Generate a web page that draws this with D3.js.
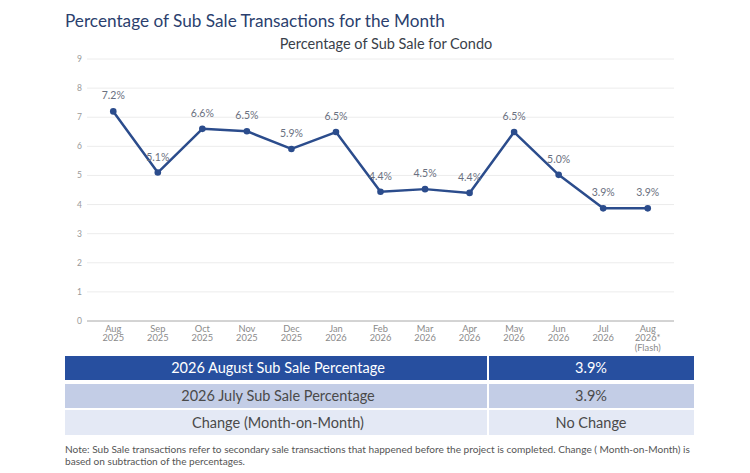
<!DOCTYPE html>
<html>
<head>
<meta charset="utf-8">
<script src="https://cdn.jsdelivr.net/npm/d3@7"></script>
<style>
  body { margin: 0; background: #fff; }
  svg { display: block; font-family: Lato, "Noto Sans", sans-serif; }
</style>
</head>
<body>
<svg id="chart" width="750" height="473"></svg>
<script>
// chart data
const months = ['Aug|2025', 'Sep|2025', 'Oct|2025', 'Nov|2025', 'Dec|2025', 'Jan|2026', 'Feb|2026',
  'Mar|2026', 'Apr|2026', 'May|2026', 'Jun|2026', 'Jul|2026', 'Aug|2026*|(Flash)'];
const subSale = [7.2, 5.1, 6.6, 6.52, 5.91, 6.49, 4.44, 4.53, 4.4, 6.49, 5.02, 3.87, 3.87];
const yTicks = [0, 1, 2, 3, 4, 5, 6, 7, 8, 9];

// summary table
const tableLabels = ['2026 August Sub Sale Percentage', '2026 July Sub Sale Percentage', 'Change (Month-on-Month)'];
const tableValues = ['3.9%', '3.9%', 'No Change'];

const svg = d3.select('#chart');

svg.append('text')
  .attr('x', 65).attr('y', 27)
  .attr('font-size', 17.2)
  .attr('fill', '#2b3f6e')
  .text('Percentage of Sub Sale Transactions for the Month');

svg.append('text')
  .attr('x', 386).attr('y', 49)
  .attr('text-anchor', 'middle')
  .attr('font-size', 14.5)
  .attr('fill', '#3a3f4a')
  .text('Percentage of Sub Sale for Condo');

const xScale = d3.scaleBand()
  .domain(months)
  .range([91, 670]);

const yScale = d3.scaleLinear()
  .domain([0, 9])
  .range([321, 59]);

// gridlines
svg.append('g')
  .selectAll('line')
  .data(yTicks)
  .enter().append('line')
  .attr('x1', 87).attr('x2', 674)
  .attr('y1', d => yScale(d)).attr('y2', d => yScale(d))
  .attr('stroke', d => d === 0 ? '#a8a8a8' : '#ececec')
  .attr('stroke-width', 1);

// y labels
svg.append('g')
  .selectAll('text')
  .data(yTicks)
  .enter().append('text')
  .attr('x', 82)
  .attr('y', d => yScale(d) + 3)
  .attr('text-anchor', 'end')
  .attr('font-size', 8.5)
  .attr('fill', '#9a9a9a')
  .text(d => d);

// x labels
const xLab = svg.append('g')
  .selectAll('text')
  .data(months)
  .enter().append('text')
  .attr('text-anchor', 'middle')
  .attr('font-size', 9.3)
  .attr('fill', '#8a8a8a');

xLab.each(function (d) {
  const cx = xScale(d) + xScale.bandwidth() / 2;
  d3.select(this).selectAll('tspan')
    .data(d.split('|'))
    .enter().append('tspan')
    .attr('x', cx)
    .attr('y', (t, i) => 331.5 + i * 9.5)
    .text(t => t);
});

const cxOf = (d, i) => xScale(months[i]) + xScale.bandwidth() / 2;

const line = d3.line()
  .x(cxOf)
  .y(d => yScale(d));

svg.append('path')
  .datum(subSale)
  .attr('d', line)
  .attr('fill', 'none')
  .attr('stroke', '#2b4c8c')
  .attr('stroke-width', 2.5)
  .attr('stroke-linejoin', 'round');

svg.append('g')
  .selectAll('circle')
  .data(subSale)
  .enter().append('circle')
  .attr('cx', cxOf)
  .attr('cy', d => yScale(d))
  .attr('r', 3.3)
  .attr('fill', '#2b4c8c');

svg.append('g')
  .selectAll('text')
  .data(subSale)
  .enter().append('text')
  .attr('x', cxOf)
  .attr('y', d => yScale(d) - 12)
  .attr('text-anchor', 'middle')
  .attr('font-size', 10.5)
  .attr('fill', '#6a7080')
  .text(d => d.toFixed(1) + '%');

// table
const rowTop = [356, 384, 410];
const rowH = [24, 24, 25];
const rowFill = ['#274f9f', '#c3cde6', '#e4e9f5'];
const rowText = ['#ffffff', '#4a4a4a', '#4a4a4a'];

const rows = svg.append('g')
  .selectAll('g')
  .data(tableLabels)
  .enter().append('g');

rows.append('rect')
  .attr('x', 65).attr('y', (d, i) => rowTop[i])
  .attr('width', 422).attr('height', (d, i) => rowH[i])
  .attr('fill', (d, i) => rowFill[i]);

rows.append('rect')
  .attr('x', 489).attr('y', (d, i) => rowTop[i])
  .attr('width', 205).attr('height', (d, i) => rowH[i])
  .attr('fill', (d, i) => rowFill[i]);

rows.append('text')
  .attr('x', 278)
  .attr('y', (d, i) => rowTop[i] + rowH[i] / 2 + 5)
  .attr('text-anchor', 'middle')
  .attr('font-size', 14.5)
  .attr('fill', (d, i) => rowText[i])
  .text(d => d);

rows.append('text')
  .attr('x', 591)
  .attr('y', (d, i) => rowTop[i] + rowH[i] / 2 + 5)
  .attr('text-anchor', 'middle')
  .attr('font-size', 14.5)
  .attr('fill', (d, i) => rowText[i])
  .text((d, i) => tableValues[i]);

// note
const note = svg.append('text')
  .attr('font-size', 10.1)
  .attr('fill', '#555');
note.append('tspan').attr('x', 65).attr('y', 453)
  .text('Note: Sub Sale transactions refer to secondary sale transactions that happened before the project is completed. Change ( Month-on-Month) is');
note.append('tspan').attr('x', 65).attr('y', 465)
  .text('based on subtraction of the percentages.');
</script>
</body>
</html>
